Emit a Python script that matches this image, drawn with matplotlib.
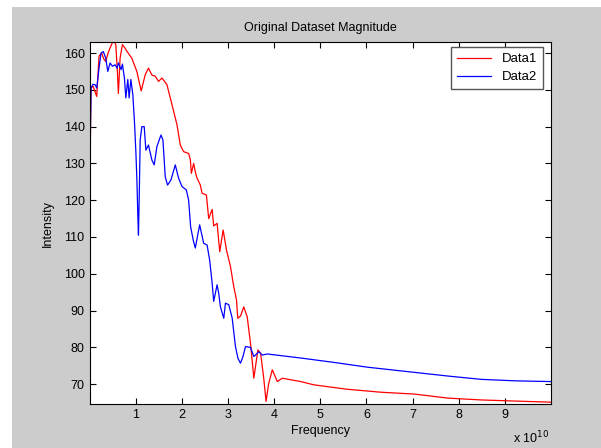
import matplotlib
matplotlib.use("Agg")
import matplotlib.pyplot as plt
from matplotlib.patches import Rectangle

plt.rcParams['font.family'] = ['Liberation Sans', 'DejaVu Sans']

# frequency in units of 1e10
freq1 = [0.004, 0.022, 0.033, 0.076, 0.157, 0.207, 0.265, 0.304, 0.352, 0.402,
         0.446, 0.517, 0.570, 0.604, 0.626, 0.663, 0.713, 0.761, 0.809, 0.917,
         1.026, 1.120, 1.207, 1.278, 1.352, 1.424, 1.496, 1.570, 1.678, 1.787,
         1.896, 1.967, 2.039, 2.148, 2.185, 2.207, 2.257, 2.293, 2.330, 2.402,
         2.439, 2.533, 2.583, 2.657, 2.691, 2.765, 2.822, 2.896, 2.967, 3.054,
         3.126, 3.185, 3.213, 3.272, 3.343, 3.417, 3.489, 3.561, 3.648, 3.707,
         3.772, 3.826, 3.880, 3.961, 4.070, 4.178, 4.576, 4.865, 5.591, 6.315,
         7.039, 7.765, 8.489, 9.213, 9.99]
data1 = [109, 140, 150.5, 151, 148.2, 159.2, 160, 158.5, 157.7, 160,
         161.4, 163.5, 162.3, 155, 149, 158.6, 162.3, 161.5, 160.5, 158.6,
         155, 149.7, 154.1, 155.9, 154, 153.7, 152.3, 153.2, 151.4, 146,
         140.5, 135, 133.2, 132.7, 131, 127.3, 130, 127.7, 126, 124.1,
         121.9, 121.4, 115, 117.5, 113, 113.7, 106, 111.9, 106.5, 102,
         96.5, 92.9, 87.9, 88.5, 91, 88.3, 81.1, 71.6, 79.3, 78.4,
         72, 65.3, 70, 73.9, 70.7, 71.6, 70.7, 69.8, 68.6, 67.8,
         67.3, 66.2, 65.7, 65.4, 65.1]

freq2 = [0.004, 0.017, 0.033, 0.076, 0.120, 0.157, 0.207, 0.250, 0.300, 0.352,
         0.396, 0.446, 0.496, 0.554, 0.598, 0.626, 0.685, 0.713, 0.757, 0.787,
         0.830, 0.859, 0.896, 0.939, 0.974, 1.004, 1.026, 1.048, 1.061, 1.083,
         1.098, 1.135, 1.185, 1.222, 1.278, 1.352, 1.402, 1.461, 1.548, 1.591,
         1.641, 1.691, 1.765, 1.859, 1.930, 2.004, 2.098, 2.148, 2.191, 2.250,
         2.293, 2.337, 2.387, 2.474, 2.548, 2.604, 2.657, 2.691, 2.765, 2.800,
         2.837, 2.909, 2.946, 3.017, 3.091, 3.163, 3.217, 3.272, 3.326, 3.380,
         3.489, 3.561, 3.670, 3.743, 3.852, 4.576, 5.300, 6.026, 6.750, 7.765,
         8.489, 9.213, 9.99]
data2 = [94, 136, 150.5, 151.5, 151.4, 150.5, 155.9, 160, 160.4, 158.6,
         155, 157.3, 156.4, 156.8, 155.9, 157.3, 155.5, 157, 153.2, 147.8,
         152.8, 147.8, 152.8, 148.7, 141.4, 133.3, 126, 115.5, 110.5, 124.6,
         136.4, 140, 140, 133.6, 135, 130.9, 129.6, 134.6, 137.7, 136.4,
         126.4, 124.1, 125.5, 129.6, 126, 123.7, 122.8, 120, 112.8, 109,
         107, 110, 113.3, 108.3, 107.8, 103.7, 97.5, 92.5, 97, 94.7,
         91, 87.9, 92, 91.6, 88, 80.2, 77, 75.7, 77.5, 80.2,
         80, 77.5, 78.8, 77.9, 78.2, 77.1, 75.9, 74.6, 73.6, 72.2,
         71.3, 70.9, 70.7]

xticks = [1, 2, 3, 4, 5, 6, 7, 8, 9]
yticks = [70, 80, 90, 100, 110, 120, 130, 140, 150, 160]

fig = plt.figure(figsize=(6.01, 4.48), dpi=100, facecolor='white')
fig.patches.append(Rectangle((12/601, 0), 1, 1 - 7/448, transform=fig.transFigure,
                             facecolor='#cccccc', edgecolor='none', zorder=-10))

ax = fig.add_axes([89.5/601, 1 - 404/448, (551 - 89.5)/601, (404 - 42)/448])
ax.plot(freq1, data1, color='#ff0000', lw=0.9, label='Data1')
ax.plot(freq2, data2, color='#0000ff', lw=0.9, label='Data2')

ax.set_xlim(0, 10)
ax.set_ylim(64.6, 163)
ax.set_xticks(xticks)
ax.set_yticks(yticks)
ax.tick_params(direction='in', top=True, right=True, labelsize=9, length=4, width=0.8)
for s in ax.spines.values():
    s.set_linewidth(0.8)

ax.set_title('Original Dataset Magnitude', fontsize=9, pad=8)
ax.set_xlabel('Frequency', fontsize=9, labelpad=3)
ax.set_ylabel('Intensity', fontsize=9, labelpad=7)
fig.text(513/601, 1 - 438/448, r'x 10$^{10}$', fontsize=9, va='center')

leg = ax.legend(loc='upper right', fontsize=9.5, fancybox=False, framealpha=1,
                edgecolor='#555555', bbox_to_anchor=(1 - 8/461.5, 1 - 5/362),
                borderaxespad=0, handlelength=2.6, handletextpad=0.8,
                labelspacing=0.45, borderpad=0.45)
leg.get_frame().set_linewidth(1.0)

fig.savefig('out.png', dpi=100)
